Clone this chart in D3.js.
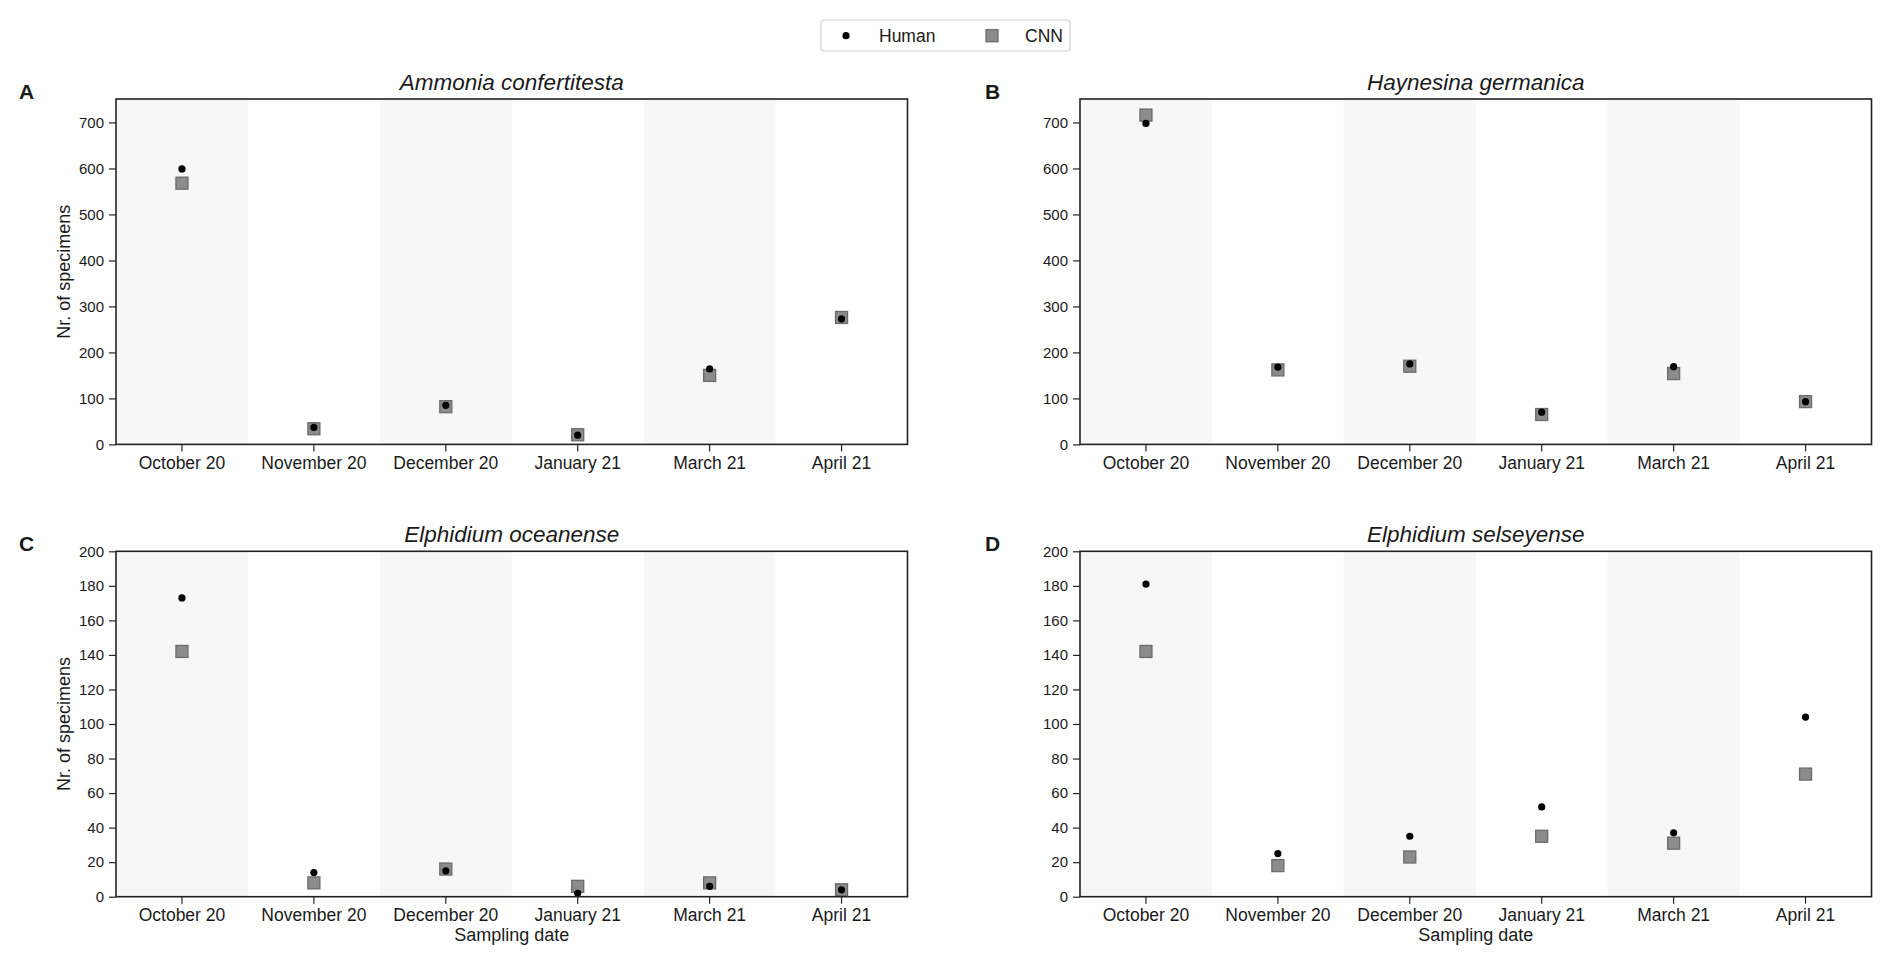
<!DOCTYPE html>
<html>
<head>
<meta charset="utf-8">
<script src="https://cdn.jsdelivr.net/npm/d3@7"></script>
<style>
  body { margin: 0; background: #fff; }
  text { font-family: "Liberation Sans", Arial, sans-serif; fill: #1a1a1a; }
</style>
</head>
<body>
<div id="chart"></div>
<script>
// data
var dates = ["October 20", "November 20", "December 20", "January 21", "March 21", "April 21"];

var ammoniaHuman = [599, 37, 85, 20, 164, 273];
var ammoniaCNN   = [568, 34, 82, 21, 150, 276];

var haynesinaHuman = [698, 168, 175, 70, 169, 93];
var haynesinaCNN   = [716, 162, 170, 65, 154, 93];

var oceanenseHuman = [173, 14, 15, 2, 6, 4];
var oceanenseCNN   = [142, 8, 16, 6, 8, 4];

var selseyenseHuman = [181, 25, 35, 52, 37, 104];
var selseyenseCNN   = [142, 18, 23, 35, 31, 71];

var topTicks = [0, 100, 200, 300, 400, 500, 600, 700];
var bottomTicks = [0, 20, 40, 60, 80, 100, 120, 140, 160, 180, 200];

var W = 1892, H = 966;

var svg = d3.select("#chart")
    .append("svg")
    .attr("width", W)
    .attr("height", H);

// panel boxes (in pixels)
var panels = [
    { letter: "A", title: "Ammonia confertitesta", human: ammoniaHuman, cnn: ammoniaCNN,
      left: 116, top: 99, ymax: 751, ticks: topTicks, ylabel: true, xlabel: false },
    { letter: "B", title: "Haynesina germanica", human: haynesinaHuman, cnn: haynesinaCNN,
      left: 1080, top: 99, ymax: 751, ticks: topTicks, ylabel: false, xlabel: false },
    { letter: "C", title: "Elphidium oceanense", human: oceanenseHuman, cnn: oceanenseCNN,
      left: 116, top: 551.3, ymax: 200, ticks: bottomTicks, ylabel: true, xlabel: true },
    { letter: "D", title: "Elphidium selseyense", human: selseyenseHuman, cnn: selseyenseCNN,
      left: 1080, top: 551.3, ymax: 200, ticks: bottomTicks, ylabel: false, xlabel: true }
];
var pw = 791.5, ph = 345.4;

panels.forEach(function (p) {
    var g = svg.append("g")
        .attr("transform", "translate(" + p.left + "," + p.top + ")");

    var x = d3.scaleBand()
        .domain(dates)
        .range([0, pw])
        .padding(0);

    var y = d3.scaleLinear()
        .domain([0, p.ymax])
        .range([ph, 0]);

    // alternating light background bands
    g.selectAll("rect.band")
        .data(dates.filter(function (d, i) { return i % 2 == 0 }))
        .enter()
        .append("rect")
        .attr("class", "band")
        .attr("x", function (d) { return x(d) })
        .attr("y", 0)
        .attr("width", x.bandwidth())
        .attr("height", ph)
        .attr("fill", "#f7f7f7");

    // x axis
    var xAxis = g.append("g")
        .attr("transform", "translate(0," + ph + ")")
        .call(d3.axisBottom(x).tickSizeOuter(0).tickSize(7).tickPadding(5));
    xAxis.select(".domain").remove();
    xAxis.selectAll("line").attr("stroke", "#222").attr("stroke-width", 1.2);
    xAxis.selectAll("text").attr("font-size", "17.5px").attr("fill", "#1a1a1a")
        .attr("font-family", "Liberation Sans, Arial, sans-serif");

    // y axis
    var yAxis = g.append("g")
        .call(d3.axisLeft(y).tickValues(p.ticks).tickSizeOuter(0).tickSize(7).tickPadding(5));
    yAxis.select(".domain").remove();
    yAxis.selectAll("line").attr("stroke", "#222").attr("stroke-width", 1.2);
    yAxis.selectAll("text").attr("font-size", "15px").attr("fill", "#1a1a1a")
        .attr("font-family", "Liberation Sans, Arial, sans-serif");

    var cx = function (d, i) { return x(dates[i]) + x.bandwidth() / 2 };

    // CNN squares
    var s = 12;
    g.selectAll("rect.cnn")
        .data(p.cnn)
        .enter()
        .append("rect")
        .attr("class", "cnn")
        .attr("x", function (d, i) { return cx(d, i) - s / 2 })
        .attr("y", function (d) { return y(d) - s / 2 })
        .attr("width", s)
        .attr("height", s)
        .attr("fill", "#8c8c8c")
        .attr("stroke", "#6b6b6b")
        .attr("stroke-width", 1.3);

    // human dots
    g.selectAll("circle.human")
        .data(p.human)
        .enter()
        .append("circle")
        .attr("class", "human")
        .attr("cx", cx)
        .attr("cy", function (d) { return y(d) })
        .attr("r", 3.6)
        .attr("fill", "#000");

    // frame
    g.append("rect")
        .attr("width", pw)
        .attr("height", ph)
        .attr("fill", "none")
        .attr("stroke", "#222")
        .attr("stroke-width", 1.6);

    // title
    g.append("text")
        .attr("x", pw / 2)
        .attr("y", -9)
        .attr("text-anchor", "middle")
        .attr("font-size", "22.5px")
        .attr("font-style", "italic")
        .text(p.title);

    // panel letter
    g.append("text")
        .attr("x", p.letter == "A" || p.letter == "C" ? 19 - p.left : 985 - p.left)
        .attr("y", 0)
        .attr("font-size", "21px")
        .attr("font-weight", "bold")
        .text(p.letter);

    if (p.ylabel) {
        g.append("text")
            .attr("transform", "translate(" + (-52) + "," + (ph / 2) + ") rotate(-90)")
            .attr("text-anchor", "middle")
            .attr("dy", "0.35em")
            .attr("font-size", "18px")
            .text("Nr. of specimens");
    }
    if (p.xlabel) {
        g.append("text")
            .attr("x", pw / 2)
            .attr("y", ph + 44)
            .attr("text-anchor", "middle")
            .attr("font-size", "18px")
            .text("Sampling date");
    }
});

// legend at the top
var legend = svg.append("g").attr("transform", "translate(821,20)");
legend.append("rect")
    .attr("width", 249)
    .attr("height", 31)
    .attr("rx", 3)
    .attr("fill", "#fff")
    .attr("stroke", "#cfcfcf")
    .attr("stroke-width", 1.2);
legend.append("circle")
    .attr("cx", 25)
    .attr("cy", 15.7)
    .attr("r", 3.6)
    .attr("fill", "#000");
legend.append("text")
    .attr("x", 58)
    .attr("y", 15.7)
    .attr("dy", "0.35em")
    .attr("font-size", "17.5px")
    .text("Human");
legend.append("rect")
    .attr("x", 171 - 6)
    .attr("y", 15.7 - 6)
    .attr("width", 12)
    .attr("height", 12)
    .attr("fill", "#8c8c8c")
    .attr("stroke", "#6b6b6b")
    .attr("stroke-width", 1.3);
legend.append("text")
    .attr("x", 204)
    .attr("y", 15.7)
    .attr("dy", "0.35em")
    .attr("font-size", "17.5px")
    .text("CNN");
</script>
</body>
</html>
